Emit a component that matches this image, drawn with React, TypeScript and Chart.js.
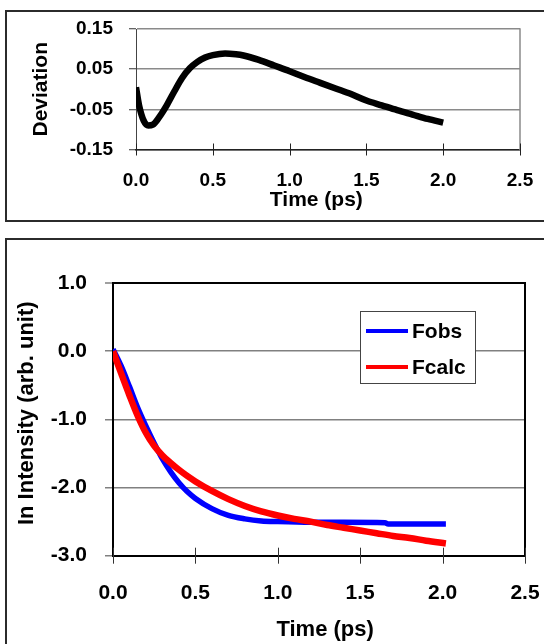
import React, { useEffect, useRef } from "react";
import { Chart, registerables } from "chart.js";

Chart.register(...registerables);

const FONT = "'Liberation Sans', Arial, Helvetica, sans-serif";

// ---- Top chart: deviation ----
const devTime = [0.0, 0.02, 0.05, 0.08, 0.11, 0.15, 0.2, 0.25, 0.3, 0.35, 0.4, 0.45, 0.5, 0.58, 0.65, 0.7, 0.8, 0.9, 1.0, 1.1, 1.2, 1.3, 1.4, 1.5, 1.6, 1.7, 1.8, 1.9, 2.0];
const devValues = [0.005, -0.04, -0.078, -0.09, -0.088, -0.07, -0.04, -0.005, 0.028, 0.052, 0.068, 0.079, 0.085, 0.089, 0.087, 0.084, 0.073, 0.059, 0.045, 0.03, 0.016, 0.002, -0.012, -0.028, -0.04, -0.052, -0.063, -0.074, -0.083];
const devYTicks = [-0.15, -0.05, 0.05, 0.15];
const timeTicks = [0, 0.5, 1.0, 1.5, 2.0, 2.5];

// ---- Bottom chart: ln intensity ----
const obsTime = [0, 0.05, 0.1, 0.15, 0.2, 0.25, 0.3, 0.35, 0.4, 0.45, 0.5, 0.6, 0.7, 0.8, 0.9, 1.0, 1.2, 1.4, 1.65, 1.67, 2.02];
const obsValues = [0.03, -0.22, -0.52, -0.83, -1.1, -1.35, -1.58, -1.77, -1.93, -2.06, -2.16, -2.31, -2.41, -2.46, -2.49, -2.5, -2.51, -2.51, -2.515, -2.535, -2.535];
const calcTime = [0, 0.05, 0.1, 0.15, 0.2, 0.25, 0.3, 0.35, 0.4, 0.45, 0.5, 0.6, 0.7, 0.8, 0.9, 1.0, 1.1, 1.2, 1.3, 1.4, 1.5, 1.6, 1.7, 1.8, 1.9, 2.02];
const calcValues = [0.0, -0.33, -0.65, -0.95, -1.2, -1.39, -1.53, -1.64, -1.74, -1.83, -1.91, -2.05, -2.17, -2.27, -2.35, -2.41, -2.46, -2.5, -2.55, -2.59, -2.63, -2.67, -2.71, -2.74, -2.78, -2.82];
const intYTicks = [-3, -2, -1, 0, 1];
const seriesNames = ["Fobs", "Fcalc"];
const seriesColors = ["#0000ff", "#ff0000"];

const toXY = (xs: number[], ys: number[]) => xs.map((x, i) => ({ x, y: ys[i] }));

const framePlugin = (o: { frameColor: string; frameWidth: number; tickColor: string; tickUp: number; tickDown: number }) => ({
  id: "frameTicks",
  beforeDatasetsDraw(chart: any) {
    const { ctx, chartArea } = chart;
    const xs = chart.scales.x;
    ctx.save();
    ctx.strokeStyle = o.frameColor;
    ctx.lineWidth = o.frameWidth;
    ctx.beginPath();
    ctx.moveTo(chartArea.right, chartArea.top - o.frameWidth / 2);
    ctx.lineTo(chartArea.right, chartArea.bottom + o.frameWidth / 2);
    ctx.stroke();
    ctx.strokeStyle = o.tickColor;
    ctx.lineWidth = 1;
    ctx.beginPath();
    xs.ticks.forEach((t: any) => {
      const px = Math.round(xs.getPixelForValue(t.value)) + 0.5;
      ctx.moveTo(px, chartArea.bottom - o.tickUp);
      ctx.lineTo(px, chartArea.bottom + o.tickDown);
    });
    ctx.stroke();
    ctx.restore();
  },
});

const legendPlugin = {
  id: "insideLegend",
  afterDatasetsDraw(chart: any) {
    const { ctx } = chart;
    const bx = 360, by = 72, bw = 115, bh = 72;
    ctx.save();
    ctx.fillStyle = "#ffffff";
    ctx.fillRect(bx, by, bw, bh);
    ctx.strokeStyle = "#444";
    ctx.lineWidth = 1;
    ctx.strokeRect(bx + 0.5, by + 0.5, bw, bh);
    ctx.font = `bold 21px ${FONT}`;
    ctx.textBaseline = "middle";
    ctx.fillStyle = "#000";
    chart.data.datasets.forEach((ds: any, i: number) => {
      const cy = by + 20 + i * 36;
      ctx.strokeStyle = ds.borderColor;
      ctx.lineWidth = 4;
      ctx.beginPath();
      ctx.moveTo(bx + 6, cy);
      ctx.lineTo(bx + 48, cy);
      ctx.stroke();
      ctx.fillText(ds.label, bx + 52, cy + 1);
    });
    ctx.restore();
  },
};

export default function App() {
  const topRef = useRef<HTMLCanvasElement>(null);
  const botRef = useRef<HTMLCanvasElement>(null);

  useEffect(() => {
    const top = new Chart(topRef.current!, {
      type: "line",
      data: {
        datasets: [
          {
            label: "Deviation",
            data: toXY(devTime, devValues),
            borderColor: "#000",
            borderWidth: 6.5,
            pointRadius: 0,
            cubicInterpolationMode: "monotone",
            fill: false,
          },
        ],
      },
      options: {
        animation: false,
        responsive: false,
        layout: { padding: { left: 0, right: 24, top: 29, bottom: 0 } },
        plugins: { legend: { display: false }, tooltip: { enabled: false } },
        scales: {
          x: {
            type: "linear",
            min: 0,
            max: 2.5,
            afterBuildTicks: (s: any) => {
              s.ticks = timeTicks.map((v) => ({ value: v }));
            },
            afterFit: (s: any) => {
              s.height = 72.5;
              s.paddingLeft = 0;
              s.paddingRight = 0;
            },
            grid: { display: false, drawTicks: false },
            border: { display: true, color: "#222", width: 1.5 },
            ticks: {
              color: "#000",
              padding: 20,
              maxRotation: 0,
              font: { family: FONT, size: 19, weight: "bold" },
              callback: (v: any) => Number(v).toFixed(1),
            },
            title: {
              display: true,
              text: "Time (ps)    ",
              color: "#000",
              font: { family: FONT, size: 21, weight: "bold" },
              padding: { top: 0, bottom: 9 },
            },
          },
          y: {
            type: "linear",
            min: -0.15,
            max: 0.15,
            afterBuildTicks: (s: any) => {
              s.ticks = devYTicks.map((v) => ({ value: v }));
            },
            afterFit: (s: any) => {
              s.width = 136;
            },
            grid: { color: "#8a8a8a", lineWidth: 1.5, tickLength: 7, tickColor: "#333", tickWidth: 1 },
            border: { display: true, color: "#444", width: 1 },
            ticks: {
              color: "#000",
              padding: 16,
              font: { family: FONT, size: 19, weight: "bold" },
              callback: (v: any) => Number(v).toFixed(2),
            },
            title: {
              display: true,
              text: "Deviation",
              color: "#000",
              font: { family: FONT, size: 21, weight: "bold" },
              padding: { top: 29, bottom: 0 },
            },
          },
        },
      },
      plugins: [framePlugin({ frameColor: "#8a8a8a", frameWidth: 1.5, tickColor: "#222", tickUp: 6, tickDown: 6 })],
    } as any);

    const bot = new Chart(botRef.current!, {
      type: "line",
      data: {
        datasets: [
          {
            label: seriesNames[0],
            data: toXY(obsTime, obsValues),
            borderColor: seriesColors[0],
            borderWidth: 5.5,
            pointRadius: 0,
            cubicInterpolationMode: "monotone",
            fill: false,
            order: 1,
          },
          {
            label: seriesNames[1],
            data: toXY(calcTime, calcValues),
            borderColor: seriesColors[1],
            borderWidth: 6.5,
            pointRadius: 0,
            cubicInterpolationMode: "monotone",
            fill: false,
            order: 0,
          },
        ],
      },
      options: {
        animation: false,
        responsive: false,
        layout: { padding: { left: 0, right: 19, top: 44, bottom: 0 } },
        plugins: { legend: { display: false }, tooltip: { enabled: false } },
        scales: {
          x: {
            type: "linear",
            min: 0,
            max: 2.5,
            afterBuildTicks: (s: any) => {
              s.ticks = timeTicks.map((v) => ({ value: v }));
            },
            afterFit: (s: any) => {
              s.height = 88.3;
              s.paddingLeft = 0;
              s.paddingRight = 0;
            },
            grid: { display: false, drawTicks: false },
            border: { display: true, color: "#000", width: 2 },
            ticks: {
              color: "#000",
              padding: 25,
              maxRotation: 0,
              font: { family: FONT, size: 21, weight: "bold" },
              callback: (v: any) => Number(v).toFixed(1),
            },
            title: {
              display: true,
              text: "  Time (ps)",
              color: "#000",
              font: { family: FONT, size: 22, weight: "bold" },
              padding: { top: 0, bottom: 1 },
            },
          },
          y: {
            type: "linear",
            min: -3,
            max: 1,
            afterBuildTicks: (s: any) => {
              s.ticks = intYTicks.map((v) => ({ value: v }));
            },
            afterFit: (s: any) => {
              s.width = 113;
            },
            grid: {
              color: (c: any) => (c.tick && c.tick.value === 1 ? "#000" : "#808080"),
              lineWidth: (c: any) => (c.tick && c.tick.value === 1 ? 2 : 1.5),
              tickLength: 8,
              tickColor: "#808080",
              tickWidth: 1.5,
            },
            border: { display: true, color: "#000", width: 2 },
            ticks: {
              color: "#000",
              padding: 18,
              font: { family: FONT, size: 21, weight: "bold" },
              callback: (v: any) => Number(v).toFixed(1),
            },
            title: {
              display: true,
              text: "  In Intensity (arb. unit)",
              color: "#000",
              font: { family: FONT, size: 22, weight: "bold" },
              padding: { top: 14, bottom: 0 },
            },
          },
        },
      },
      plugins: [framePlugin({ frameColor: "#000", frameWidth: 2, tickColor: "#333", tickUp: 8, tickDown: 8 }), legendPlugin],
    } as any);

    return () => {
      top.destroy();
      bot.destroy();
    };
  }, []);

  return (
    <div style={{ position: "absolute", left: 0, top: 0, width: 544, height: 644, overflow: "hidden", background: "#fff" }}>
      <div style={{ position: "absolute", left: 5, top: 10, width: 600, height: 208, border: "2px solid #2b2b2b" }} />
      <div style={{ position: "absolute", left: 5, top: 238, width: 600, height: 420, border: "2px solid #2b2b2b" }} />
      <canvas ref={topRef} width={544} height={222} style={{ position: "absolute", left: 0, top: 0, display: "block" }} />
      <canvas ref={botRef} width={544} height={405} style={{ position: "absolute", left: 0, top: 239, display: "block" }} />
    </div>
  );
}
